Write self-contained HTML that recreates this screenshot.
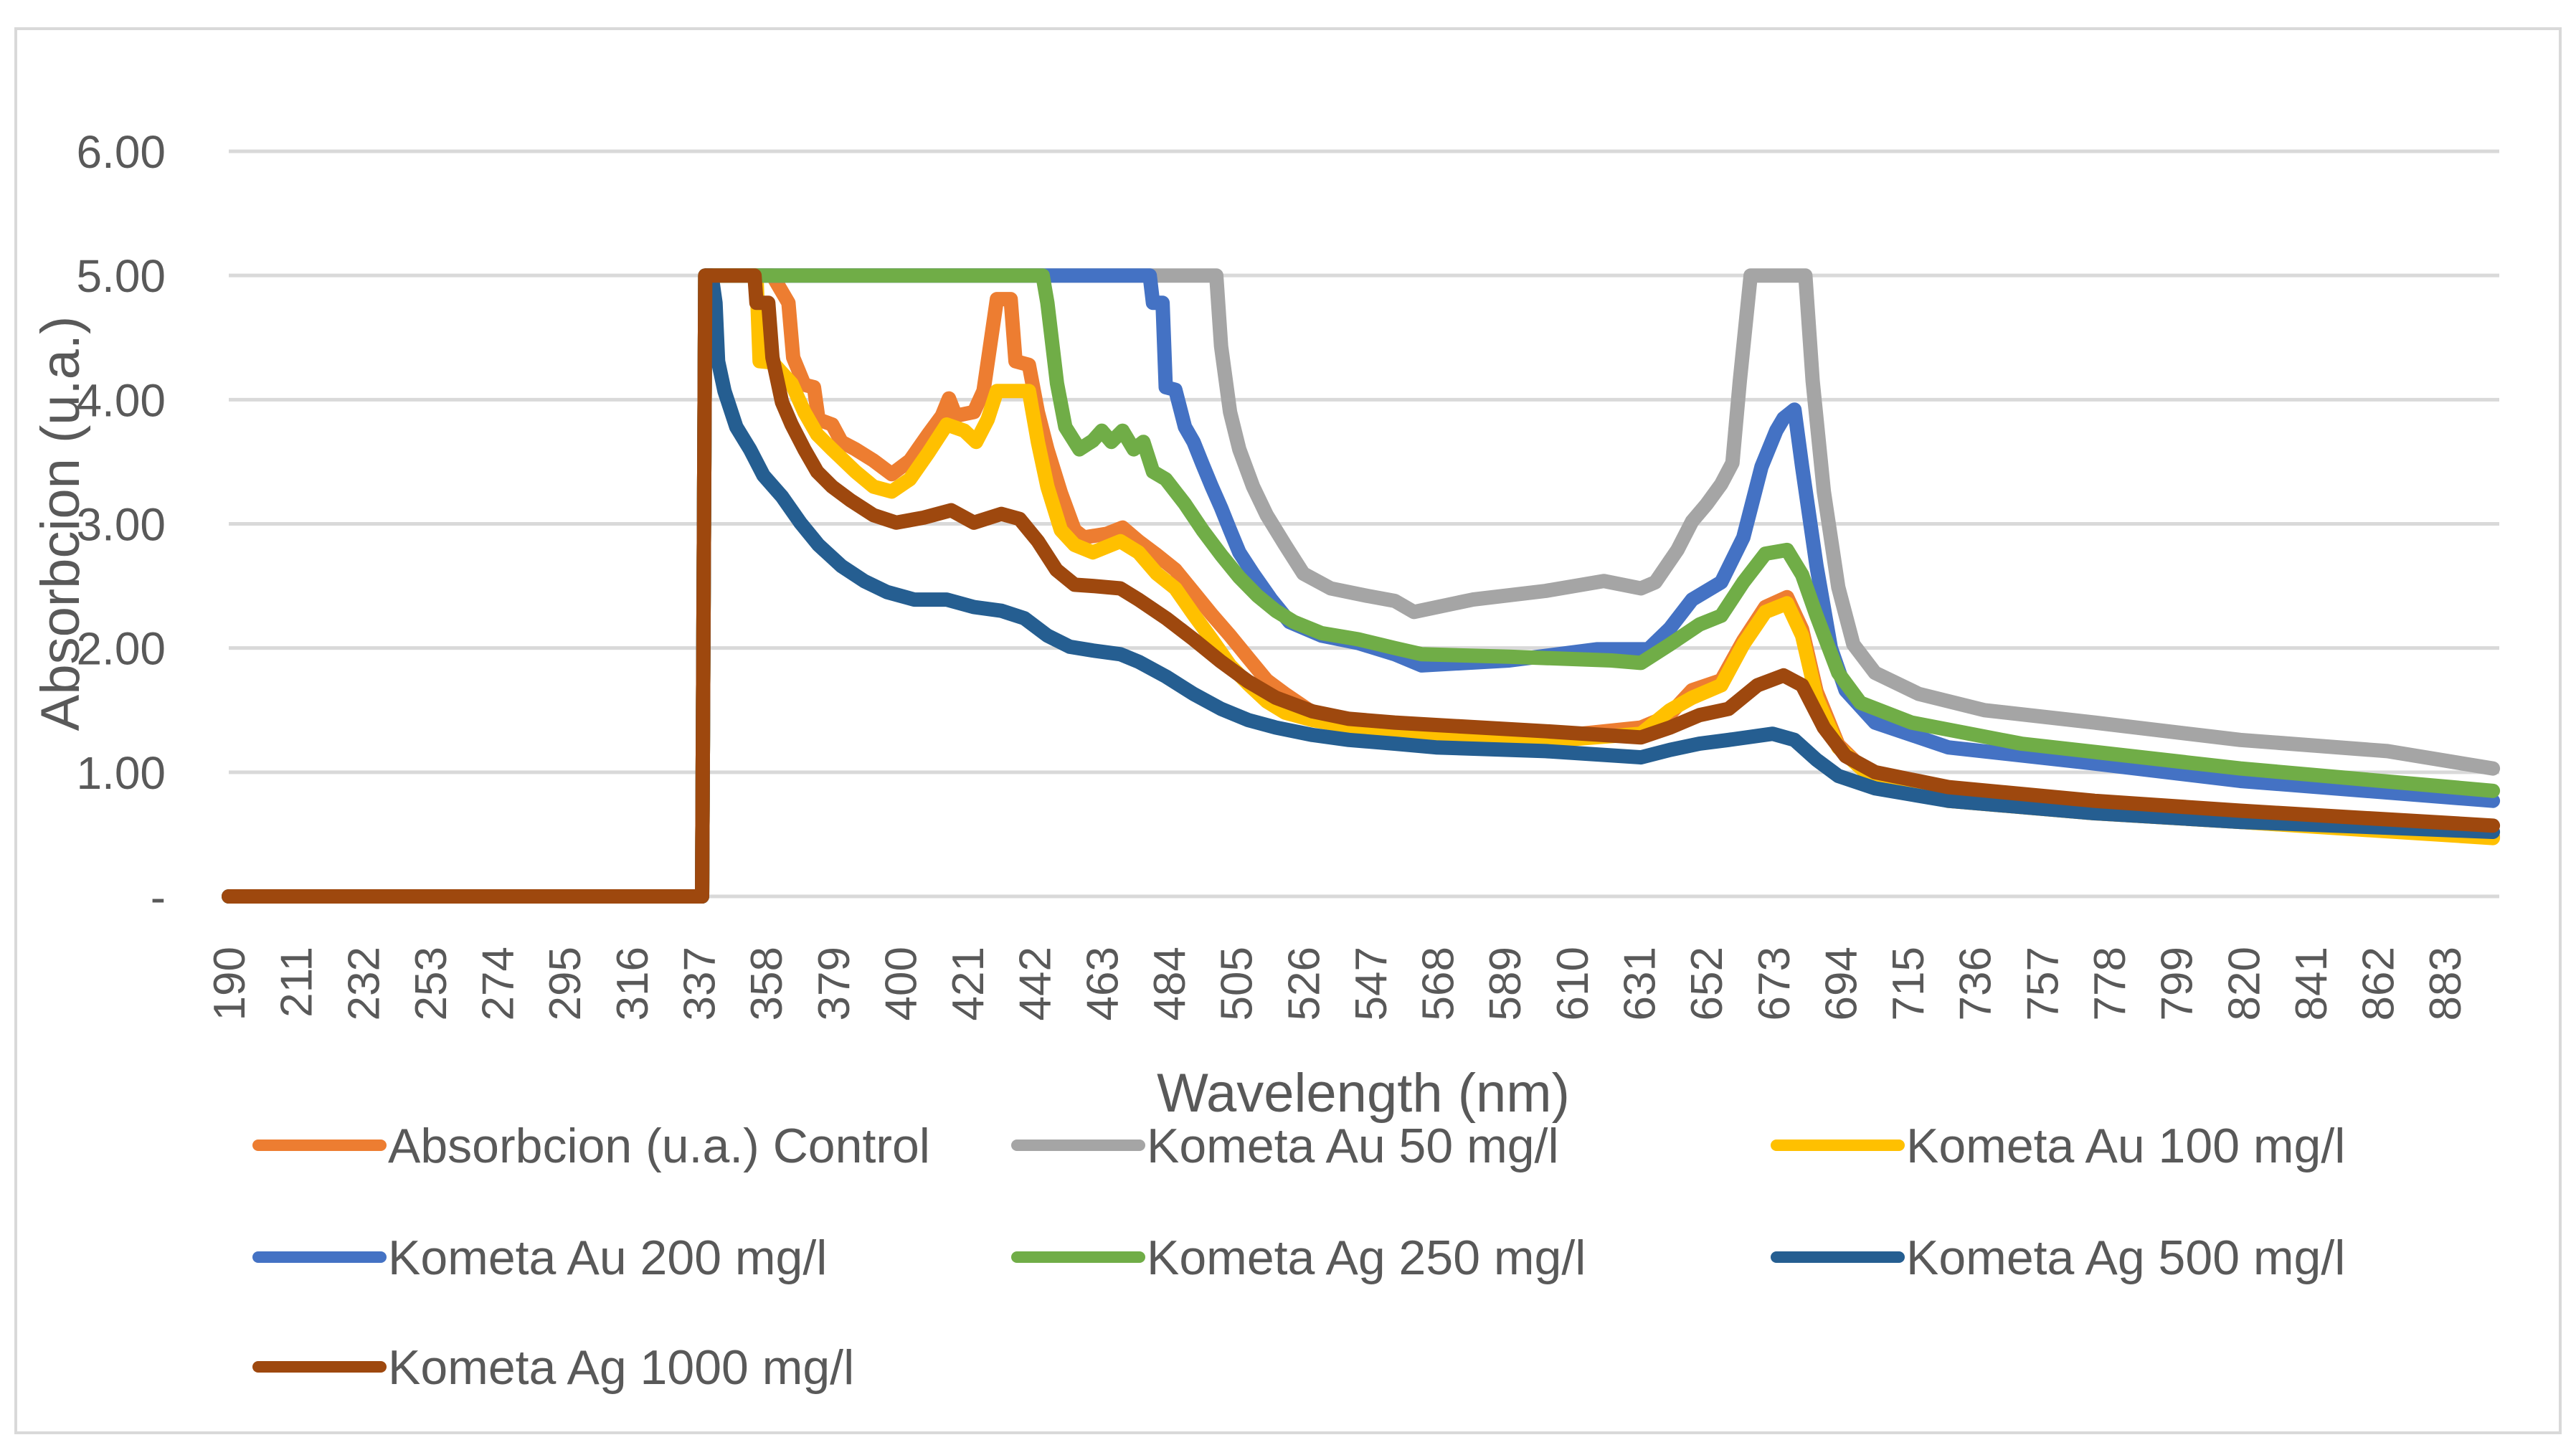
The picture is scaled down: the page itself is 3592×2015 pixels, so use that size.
<!DOCTYPE html>
<html><head><meta charset="utf-8"><style>
html,body{margin:0;padding:0;background:#fff}
svg{display:block;font-family:"Liberation Sans",Arial,sans-serif}
</style></head><body>
<svg id="chart" width="3592" height="2015" viewBox="0 0 3592 2015" xmlns="http://www.w3.org/2000/svg">
<rect x="22" y="40" width="3548" height="1958" fill="#fff" stroke="#d9d9d9" stroke-width="4"/>
<g id="grid"></g><g id="yticks"></g><g id="xticks"></g><g id="series"></g>
<text x="0" y="0" transform="translate(110,730) rotate(-90)" text-anchor="middle" font-size="76" fill="#595959">Absorbcion (u.a.)</text>
<text x="1901" y="1550" text-anchor="middle" font-size="76" fill="#595959">Wavelength (nm)</text>
<g id="legend"></g>
</svg>
<script>
const yTickValues=[0,1,2,3,4,5,6];
const yTickLabels=["-","1.00","2.00","3.00","4.00","5.00","6.00"];
const seriesNames=["Absorbcion (u.a.) Control","Kometa Au 50 mg/l","Kometa Au 100 mg/l","Kometa Au 200 mg/l","Kometa Ag 250 mg/l","Kometa Ag 500 mg/l","Kometa Ag 1000 mg/l"];
const seriesColors=["#ED7D31","#A5A5A5","#FFC000","#4472C4","#70AD47","#255E91","#9E480E"];
const wlControl=[190,338,339,360,365,366.5,370,373,374.4,378.7,381.6,386,391.6,397.3,403,408.7,413,415.2,417.3,423,426,430.2,434.5,436,440.2,443,446,450.2,454.5,457.4,464.5,469.5,474.5,480.2,486,491.7,497.4,503.1,508.8,514.6,520.3,528.9,540.3,554.6,567.5,601.8,631.6,640,647.6,656.7,663.6,670.5,677.3,682,686.5,693.3,704.8,727.7,773.4,819,898];
const absControl=[0,0,5,5,4.78,4.34,4.12,4.1,3.84,3.8,3.66,3.6,3.51,3.4,3.51,3.72,3.87,4.01,3.87,3.9,4.07,4.81,4.81,4.31,4.28,3.9,3.6,3.25,2.95,2.89,2.92,2.97,2.86,2.75,2.63,2.45,2.27,2.1,1.92,1.74,1.63,1.48,1.42,1.35,1.31,1.28,1.36,1.45,1.66,1.74,2.06,2.33,2.41,2.15,1.65,1.22,0.93,0.77,0.67,0.6,0.48];
const wlAu50=[190,338,339,498.8,500.3,503.1,506,510.3,514.6,520.3,526,534.6,546,554.6,560.6,579,601.8,620,631.6,636.1,643,647.6,652.2,656.7,660.2,662.5,665.9,683,685.3,688.8,693.3,698,704.8,718.5,739,773.4,819,865,898];
const absAu50=[0,0,5,5,4.43,3.9,3.6,3.3,3.07,2.83,2.6,2.48,2.42,2.38,2.29,2.39,2.46,2.54,2.48,2.53,2.79,3.02,3.16,3.32,3.49,4.15,5,5,4.15,3.26,2.49,2.03,1.8,1.63,1.5,1.4,1.26,1.17,1.03];
const wlAu100=[190,338,339,355,356,360,366,370,374,378.7,386,391.6,397.3,403,408.7,414.5,420,423.7,427.3,430.2,437.3,440.2,443,446,450.2,454.5,460.2,468.8,474.5,480.2,486,491.7,497.4,503.1,508.8,514.6,520.3,528.9,540.3,554.6,567.5,601.8,631.6,640.7,647.6,656.7,663.6,670.5,677.3,682,686.5,693.3,704.8,727.7,773.4,819,898];
const absAu100=[0,0,5,5,4.31,4.3,4.13,3.9,3.72,3.6,3.42,3.3,3.26,3.36,3.57,3.8,3.75,3.66,3.84,4.07,4.07,4.07,3.66,3.3,2.95,2.83,2.77,2.86,2.77,2.6,2.48,2.27,2.07,1.86,1.71,1.57,1.48,1.42,1.37,1.32,1.28,1.25,1.31,1.5,1.6,1.7,2.03,2.29,2.36,2.1,1.6,1.2,0.93,0.77,0.67,0.6,0.47];
const wlAu200=[190,338,339,478,479,482,483,486,489,491.7,494.5,497.4,500.3,503.1,506,510.3,516,521.7,531.7,543.2,554.6,563,590.4,617.8,633.9,640.7,647.6,656.7,663.6,669.3,673.9,676.2,679.6,682,686.5,691,695.6,704.8,727.7,773.4,819,898];
const absAu200=[0,0,5,5,4.78,4.78,4.1,4.08,3.78,3.66,3.48,3.3,3.13,2.95,2.77,2.6,2.39,2.21,2.1,2.04,1.95,1.86,1.9,1.99,1.99,2.16,2.39,2.53,2.89,3.46,3.75,3.85,3.92,3.46,2.66,2.0,1.66,1.4,1.2,1.07,0.93,0.77];
const wlAg250=[190,338,339,444.5,446,449,451.6,456,460.2,463,466,469.5,473,476,479,483,489,494.5,500.3,506,511.7,517.4,523.1,531.7,543.2,554.6,563,590.4,622.4,631.6,640.7,649.9,656.7,663.6,670.5,677.3,682,686.5,693.3,700.2,716.2,750.5,819,898];
const absAg250=[0,0,5,5,4.78,4.13,3.78,3.6,3.67,3.75,3.66,3.75,3.6,3.66,3.42,3.36,3.16,2.95,2.75,2.57,2.42,2.3,2.21,2.12,2.07,2.0,1.95,1.93,1.9,1.88,2.03,2.19,2.26,2.53,2.76,2.79,2.59,2.26,1.8,1.56,1.4,1.23,1.03,0.85];
const wlAg500=[190,338,339,341,342.2,343,345,348.7,353,357.2,363,368.7,374.4,381.6,388.7,395.9,404.4,414.5,423,431.6,438.8,446,453,460.2,468.8,474.5,483.1,491.7,500.3,508.8,517.4,528.9,540.3,554.6,567.5,601.8,631.6,640.7,649.9,659,672.8,679.6,686.5,693.3,704.8,727.7,773.4,819,898];
const absAg500=[0,0,5,5,4.78,4.31,4.07,3.78,3.6,3.39,3.22,3.01,2.83,2.66,2.54,2.45,2.39,2.39,2.33,2.3,2.24,2.1,2.01,1.98,1.95,1.89,1.77,1.63,1.51,1.42,1.36,1.3,1.26,1.23,1.2,1.17,1.12,1.18,1.23,1.26,1.31,1.26,1.1,0.97,0.87,0.77,0.67,0.6,0.52];
const wlAg1000=[190,338,339,354.4,355,358.7,360,363,366,370,374,378.7,384.4,391.6,398.7,407.3,415.9,423,431.6,437.3,443,448.8,454.5,460.2,468.8,474.5,483.1,491.7,500.3,508.8,517.4,528.9,540.3,554.6,567.5,601.8,631.6,640.7,649.9,659,668,676.2,682,688.8,695.6,704.8,727.7,773.4,819,898];
const absAg1000=[0,0,5,5,4.78,4.78,4.34,3.98,3.8,3.6,3.42,3.3,3.19,3.07,3.01,3.05,3.11,3.01,3.08,3.04,2.86,2.63,2.51,2.5,2.48,2.39,2.24,2.07,1.89,1.73,1.6,1.49,1.43,1.4,1.38,1.33,1.28,1.36,1.46,1.51,1.7,1.78,1.7,1.36,1.13,1.0,0.88,0.77,0.69,0.57];
const xTickStart=190, xTickStep=21, xTickCount=34;

const NS="http://www.w3.org/2000/svg";
const X0=319,X1=3485,Y0=1250,Y1=211,WMIN=190,WMAX=900,VMAX=6;
function xs(w){return X0+(w-WMIN)/(WMAX-WMIN)*(X1-X0);}
function ys(v){return Y0-v/VMAX*(Y0-Y1);}
function mk(tag,attrs,parent){const e=document.createElementNS(NS,tag);for(const k in attrs)e.setAttribute(k,attrs[k]);parent.appendChild(e);return e;}

const grid=document.getElementById('grid'),yt=document.getElementById('yticks');
yTickValues.forEach((v,i)=>{
  const l=mk('line',{x1:X0,x2:X1,y1:ys(v),y2:ys(v),stroke:'#d9d9d9','stroke-width':5},grid);
  
  
  const t=mk('text',{x:231,y:ys(v)+23,'text-anchor':'end','font-size':64,fill:'#595959'},yt);
  t.textContent=yTickLabels[i];
  
  
});
const xt=document.getElementById('xticks');
for(let k=0;k<xTickCount;k++){
  const w=xTickStart+k*xTickStep;
  const t=mk('text',{x:0,y:0,transform:'translate('+(xs(w)+22)+',1320) rotate(-90)','text-anchor':'end','font-size':62,fill:'#595959'},xt);
  t.textContent=String(w);
  
  
}
const allWl=[wlControl,wlAu50,wlAu100,wlAu200,wlAg250,wlAg500,wlAg1000];
const allAbs=[absControl,absAu50,absAu100,absAu200,absAg250,absAg500,absAg1000];
const sg=document.getElementById('series');
allWl.forEach((wl,i)=>{
  const pts=wl.map((w,j)=>xs(w).toFixed(1)+','+ys(allAbs[i][j]).toFixed(1)).join(' ');
  const p=mk('polyline',{points:pts,fill:'none',stroke:seriesColors[i],'stroke-width':20,'stroke-linejoin':'round','stroke-linecap':'round'},sg);
  
  
});
const lg=document.getElementById('legend');
const colX=[360,1418,2477], rowY=[1597,1753,1906];
seriesNames.forEach((n,i)=>{
  const cx=colX[i%3], cy=rowY[Math.floor(i/3)];
  const g=mk('g',{},lg);
  
  
  mk('line',{x1:cx,x2:cx+171,y1:cy,y2:cy,stroke:seriesColors[i],'stroke-width':16,'stroke-linecap':'round'},g);
  const t=mk('text',{x:cx+181,y:cy+24,'font-size':68,fill:'#595959'},g);
  t.textContent=n;
});
</script>
</body></html>
